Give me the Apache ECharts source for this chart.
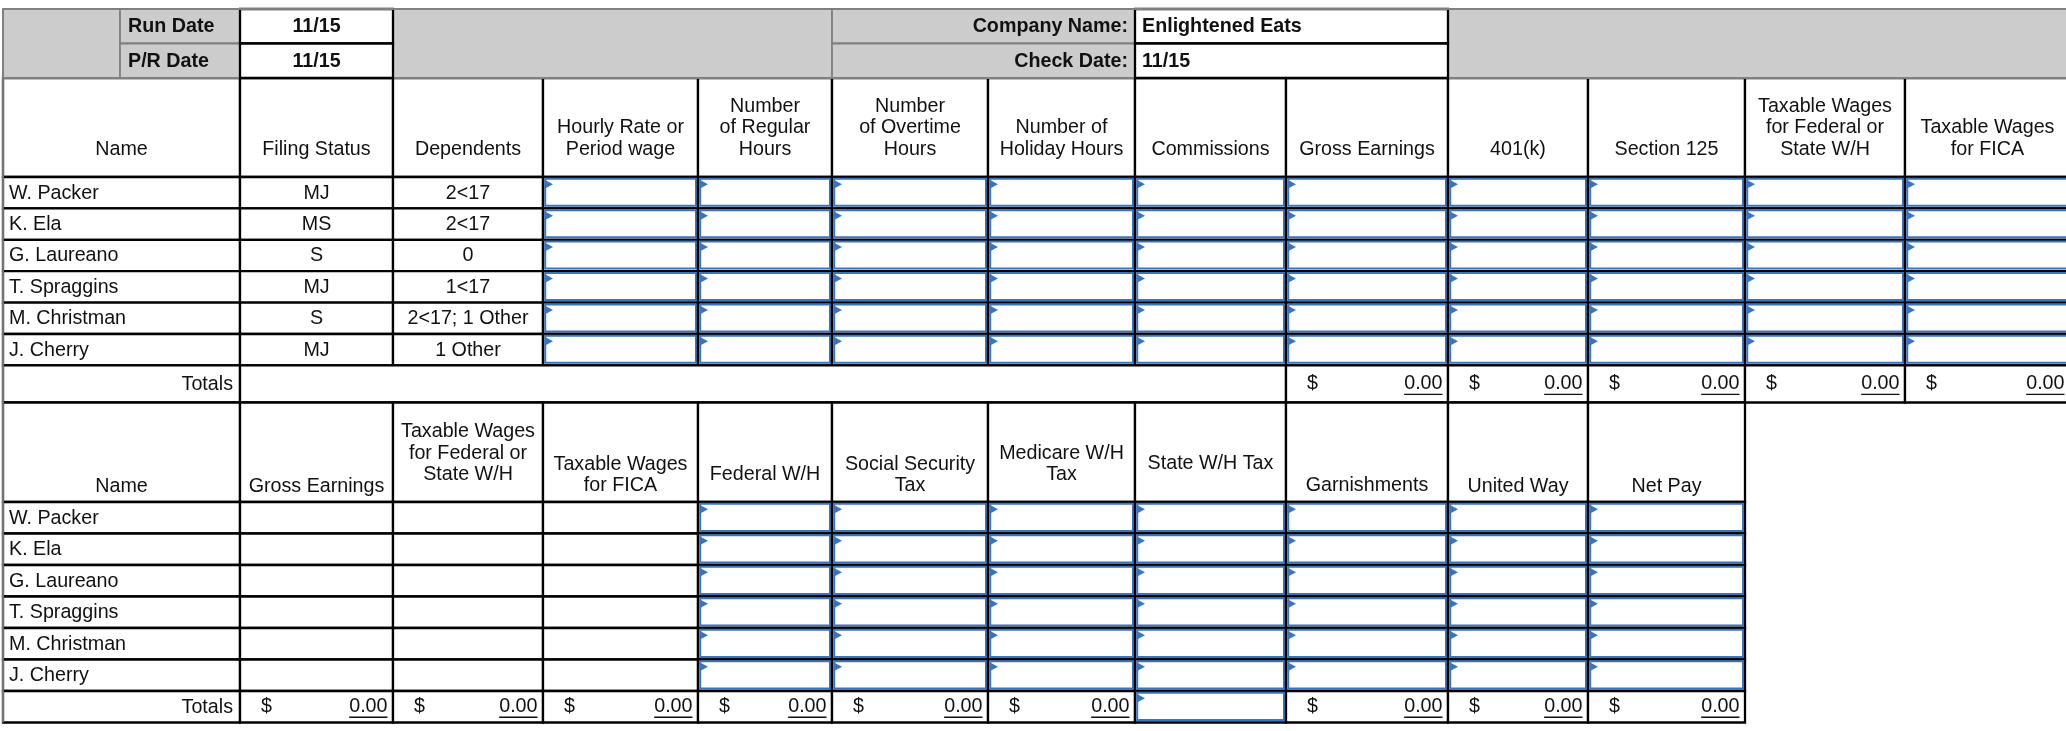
<!DOCTYPE html>
<html><head><meta charset="utf-8">
<script src="https://cdn.jsdelivr.net/npm/echarts@6/dist/echarts.min.js"></script>
<style>html,body{margin:0;padding:0;background:#fff}#c{width:2066px;height:731px}</style>
</head><body><div id="c"></div>
<script>
// ---------- data ----------
const employees = ['W. Packer', 'K. Ela', 'G. Laureano', 'T. Spraggins', 'M. Christman', 'J. Cherry'];
const filingStatus = ['MJ', 'MS', 'S', 'MJ', 'S', 'MJ'];
const dependents = ['2<17', '2<17', '0', '1<17', '2<17; 1 Other', '1 Other'];
const topLabels = ['Run Date', 'P/R Date', 'Company Name:', 'Check Date:'];
const topValues = ['11/15', '11/15', 'Enlightened Eats', '11/15'];
const earningsHeaders = ['Name', 'Filing Status', 'Dependents', 'Hourly Rate or\nPeriod wage',
  'Number\nof Regular\nHours', 'Number\nof Overtime\nHours', 'Number of\nHoliday Hours', 'Commissions',
  'Gross Earnings', '401(k)', 'Section 125', 'Taxable Wages\nfor Federal or\nState W/H', 'Taxable Wages\nfor FICA'];
// totals for Gross Earnings, 401(k), Section 125, Taxable Fed/State, Taxable FICA
const earningsTotals = [0, 0, 0, 0, 0];
const deductionHeaders = ['Name', 'Gross Earnings', 'Taxable Wages\nfor Federal or\nState W/H', 'Taxable Wages\nfor FICA',
  'Federal W/H', 'Social Security\nTax', 'Medicare W/H\nTax', 'State W/H Tax', 'Garnishments', 'United Way', 'Net Pay'];
// null = entry cell (no computed total)
const deductionTotals = [0, 0, 0, 0, 0, 0, null, 0, 0, 0];
const totalsLabel = 'Totals';

// ---------- layout / style ----------
const COLS = [3, 240, 393, 543, 698, 832, 988, 1135, 1286, 1448, 1588, 1745, 1905, 2070];
const SPLIT = 120;
const Y_TOP = 9, Y_MID = 43.5, Y_H1 = 78, Y_B1 = 177, RH1 = 31.4, Y_T1B = 402.5, Y_B2 = 502, RH2 = 31.5;
const H1_LAST = 149.5;
const H2_LAST = [487, 487, 475, 486, 475, 486, 475, 464, 486, 487, 487];
const FS = 19.7, LH = 21.6, FF = '"Liberation Sans", Arial, Helvetica, sans-serif';
const BLACK = '#000', GRAYLINE = '#808080', GRAYFILL = '#cccccc', BLUE = '#3b73bd', TXT = '#111';

const mctx = document.createElement('canvas').getContext('2d');
mctx.font = FS + 'px ' + FF;

const cells = [];
function cell(x0, y0, x1, y1, o) { cells.push(Object.assign({ x0, y0, x1, y1 }, o || {})); }

// header row 1
earningsHeaders.forEach((h, i) => cell(COLS[i], Y_H1, COLS[i + 1], Y_B1, { texts: [{ t: h, align: 'center', last: H1_LAST }] }));
// body rows 1
employees.forEach((nm, r) => {
  const y0 = Y_B1 + r * RH1, y1 = y0 + RH1;
  cell(COLS[0], y0, COLS[1], y1, { texts: [{ t: nm, align: 'left', pad: 6 }] });
  cell(COLS[1], y0, COLS[2], y1, { texts: [{ t: filingStatus[r], align: 'center' }] });
  cell(COLS[2], y0, COLS[3], y1, { texts: [{ t: dependents[r], align: 'center' }] });
  for (let c = 3; c < COLS.length - 1; c++) cell(COLS[c], y0, COLS[c + 1], y1, { input: true });
});
// totals row 1
const yT1 = Y_B1 + 6 * RH1;
cell(COLS[0], yT1, COLS[1], Y_T1B, { texts: [{ t: totalsLabel, align: 'right', pad: 7 }] });
cell(COLS[1], yT1, COLS[8], Y_T1B, {});
earningsTotals.forEach((v, i) => cell(COLS[8 + i], yT1, COLS[9 + i], Y_T1B, { money: v }));
// header row 2
deductionHeaders.forEach((h, i) => cell(COLS[i], Y_T1B, COLS[i + 1], Y_B2, { texts: [{ t: h, align: 'center', last: H2_LAST[i] }] }));
// body rows 2
employees.forEach((nm, r) => {
  const y0 = Y_B2 + r * RH2, y1 = y0 + RH2;
  cell(COLS[0], y0, COLS[1], y1, { texts: [{ t: nm, align: 'left', pad: 6 }] });
  for (let c = 1; c < 11; c++) cell(COLS[c], y0, COLS[c + 1], y1, { input: c >= 4 });
});
// totals row 2
const yT2 = Y_B2 + 6 * RH2, yT2b = yT2 + RH2;
cell(COLS[0], yT2, COLS[1], yT2b, { texts: [{ t: totalsLabel, align: 'right', pad: 7 }] });
deductionTotals.forEach((v, i) => cell(COLS[1 + i], yT2, COLS[2 + i], yT2b, v == null ? { input: true } : { money: v }));

// top block (gray)
const G = { fill: GRAYFILL, stroke: GRAYLINE, lw: 1.8 };
cell(COLS[0], Y_TOP, SPLIT, Y_H1, G);
cell(SPLIT, Y_TOP, COLS[1], Y_MID, Object.assign({ texts: [{ t: topLabels[0], align: 'left', pad: 8, bold: true }] }, G));
cell(SPLIT, Y_MID, COLS[1], Y_H1, Object.assign({ texts: [{ t: topLabels[1], align: 'left', pad: 8, bold: true }] }, G));
cell(COLS[2], Y_TOP, COLS[5], Y_H1, G);
cell(COLS[5], Y_TOP, COLS[7], Y_MID, Object.assign({ texts: [{ t: topLabels[2], align: 'right', pad: 7, bold: true }] }, G));
cell(COLS[5], Y_MID, COLS[7], Y_H1, Object.assign({ texts: [{ t: topLabels[3], align: 'right', pad: 7, bold: true }] }, G));
cell(COLS[9], Y_TOP, COLS[13], Y_H1, G);
// top block (white)
cell(COLS[1], Y_TOP, COLS[2], Y_MID, { texts: [{ t: topValues[0], align: 'center', bold: true }] });
cell(COLS[1], Y_MID, COLS[2], Y_H1, { texts: [{ t: topValues[1], align: 'center', bold: true }] });
cell(COLS[7], Y_TOP, COLS[9], Y_MID, { texts: [{ t: topValues[2], align: 'left', pad: 7, bold: true }] });
cell(COLS[7], Y_MID, COLS[9], Y_H1, { texts: [{ t: topValues[3], align: 'left', pad: 7, bold: true }] });
// outer gray edges
cell(COLS[0], Y_TOP, COLS[13], Y_TOP, { line: true });
cell(COLS[0], Y_TOP, COLS[0], yT2b, { line: true });

function renderItem(params, api) {
  const c = cells[params.dataIndex];
  const a = api.coord([c.x0, c.y0]), b = api.coord([c.x1, c.y1]);
  const x = a[0], y = a[1], w = b[0] - a[0], h = b[1] - a[1];
  const ch = [];
  if (c.line) {
    ch.push({ type: 'line', shape: { x1: a[0], y1: a[1], x2: b[0], y2: b[1] }, style: { stroke: GRAYLINE, lineWidth: 1.8 } });
    return { type: 'group', children: ch };
  }
  ch.push({ type: 'rect', shape: { x, y, width: w, height: h }, style: { fill: c.fill || '#fff', stroke: c.stroke || BLACK, lineWidth: c.lw || 2.3 } });
  if (c.input) {
    ch.push({ type: 'rect', shape: { x: x + 2.2, y: y + 1.8, width: w - 4.2, height: h - 4.4 }, style: { fill: 'none', stroke: BLUE, lineWidth: 2 } });
    ch.push({ type: 'polygon', shape: { points: [[x + 1.6, y + 2.8], [x + 10, y + 7.3], [x + 1.6, y + 11.8]] }, style: { fill: BLUE } });
  }
  (c.texts || []).forEach(t => {
    const n = t.t.split('\n').length;
    const ty = t.last != null ? api.coord([0, t.last])[1] - (n - 1) * LH / 2 : y + h / 2 + 0.5;
    const tx = t.align === 'left' ? x + t.pad : t.align === 'right' ? x + w - t.pad : x + w / 2;
    ch.push({ type: 'text', style: { text: t.t, x: tx, y: ty, align: t.align, verticalAlign: 'middle', fontSize: FS, fontFamily: FF, fontWeight: t.bold ? 'bold' : 'normal', lineHeight: LH, fill: TXT } });
  });
  if (c.money != null) {
    const s = c.money.toFixed(2);
    const tw = mctx.measureText(s).width;
    const cy = y + h / 2;
    const rx = x + w - 5.5;
    ch.push({ type: 'text', style: { text: '$', x: x + 21, y: cy, align: 'left', verticalAlign: 'middle', fontSize: FS, fontFamily: FF, fill: TXT } });
    ch.push({ type: 'text', style: { text: s, x: rx, y: cy, align: 'right', verticalAlign: 'middle', fontSize: FS, fontFamily: FF, fill: TXT } });
    ch.push({ type: 'line', shape: { x1: rx - tw, y1: cy + 10.5, x2: rx, y2: cy + 10.5 }, style: { stroke: TXT, lineWidth: 1.3 } });
  }
  return { type: 'group', children: ch };
}

const chart = echarts.init(document.getElementById('c'), null, { renderer: 'canvas' });
chart.setOption({
  animation: false,
  grid: { left: 0, right: 0, top: 0, bottom: 0 },
  xAxis: { type: 'value', min: 0, max: 2066, show: false },
  yAxis: { type: 'value', min: 0, max: 731, inverse: true, show: false },
  series: [{
    type: 'custom', coordinateSystem: 'cartesian2d', clip: false, silent: true,
    encode: { x: [0, 2], y: [1, 3] },
    data: cells.map(c => [c.x0, c.y0, c.x1, c.y1]),
    renderItem: renderItem
  }]
});
</script>
</body></html>
